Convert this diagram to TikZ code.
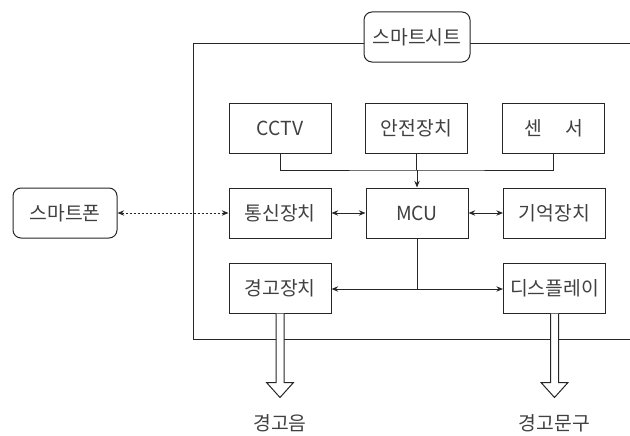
\documentclass[tikz,border=0pt]{standalone}
\usepackage{fontspec}
\setmainfont{Noto Sans CJK KR}
\usetikzlibrary{arrows.meta,calc}
\begin{document}
\begin{tikzpicture}[x=0.75pt,y=-0.75pt,
  line width=0.75pt, draw=black!85,
  blk/.style={draw=black!85, minimum width=102*0.75pt, minimum height=50*0.75pt, inner sep=0pt, font=\fontsize{14.5}{16}\selectfont, text=black!75},
  rblk/.style={blk, rounded corners=6pt},
  arr/.style={-{Stealth[length=5pt,width=4pt]}},
  darr/.style={{Stealth[length=5pt,width=4pt]}-{Stealth[length=5pt,width=4pt]}},
  lbl/.style={font=\fontsize{14.5}{16}\selectfont, text=black!75}
]
\useasboundingbox (0,0) rectangle (630,435);
\clip (0,0) rectangle (630,435);
% frame
\draw (640,44) -- (193,44) -- (193,339) -- (640,339);
\node[rblk, minimum width=106*0.75pt, fill=white] (seat) at (417,37) {스마트시트};
\node[blk] (cctv) at (280,128) {CCTV};
\node[blk] (safe) at (416.5,128) {안전장치};
\node[blk] (sens) at (553.5,128) {센\hspace{1.2em}서};
\node[blk] (comm) at (280,213) {통신장치};
\node[blk] (mcu) at (417,213) {MCU};
\node[blk] (mem) at (554.5,213) {기억장치};
\node[rblk, minimum width=104*0.75pt] (phone) at (65,213) {스마트폰};
\node[blk] (warn) at (280,288) {경고장치};
\node[blk] (disp) at (554.5,288) {디스플레이};
\node[lbl] (snd) at (280,423) {경고음};
\node[lbl] (msg) at (554.5,423) {경고문구};
\coordinate (bus) at (417,170);
\coordinate (obus) at (417,289);
% top bus
\draw (cctv.south) |- (bus) -| (sens.south);
\draw (safe.south) -- (safe.south |- bus);
\draw[arr] (bus) -- (mcu.north);
% horizontal links
\draw[darr] (comm.east) -- (mcu.west);
\draw[darr] (mcu.east) -- (mem.west);
\draw[darr, dash pattern=on 1.5pt off 1.5pt] (phone.east) -- (comm.west);
% output bus
\draw (mcu.south) -- (obus);
\draw[arr] (obus) -- (warn.east |- obus);
\draw[arr] (obus) -- (disp.west |- obus);
% hollow arrows
\foreach \n in {warn,disp}{
  \draw[fill=white, line join=miter] ($(\n.south)+(-4,0)$) -- ++(0,69) -- ++(-9.5,0) -- ++(13.5,15) -- ++(13.5,-15) -- ++(-9.5,0) -- ++(0,-69);
}
\end{tikzpicture}
\end{document}
